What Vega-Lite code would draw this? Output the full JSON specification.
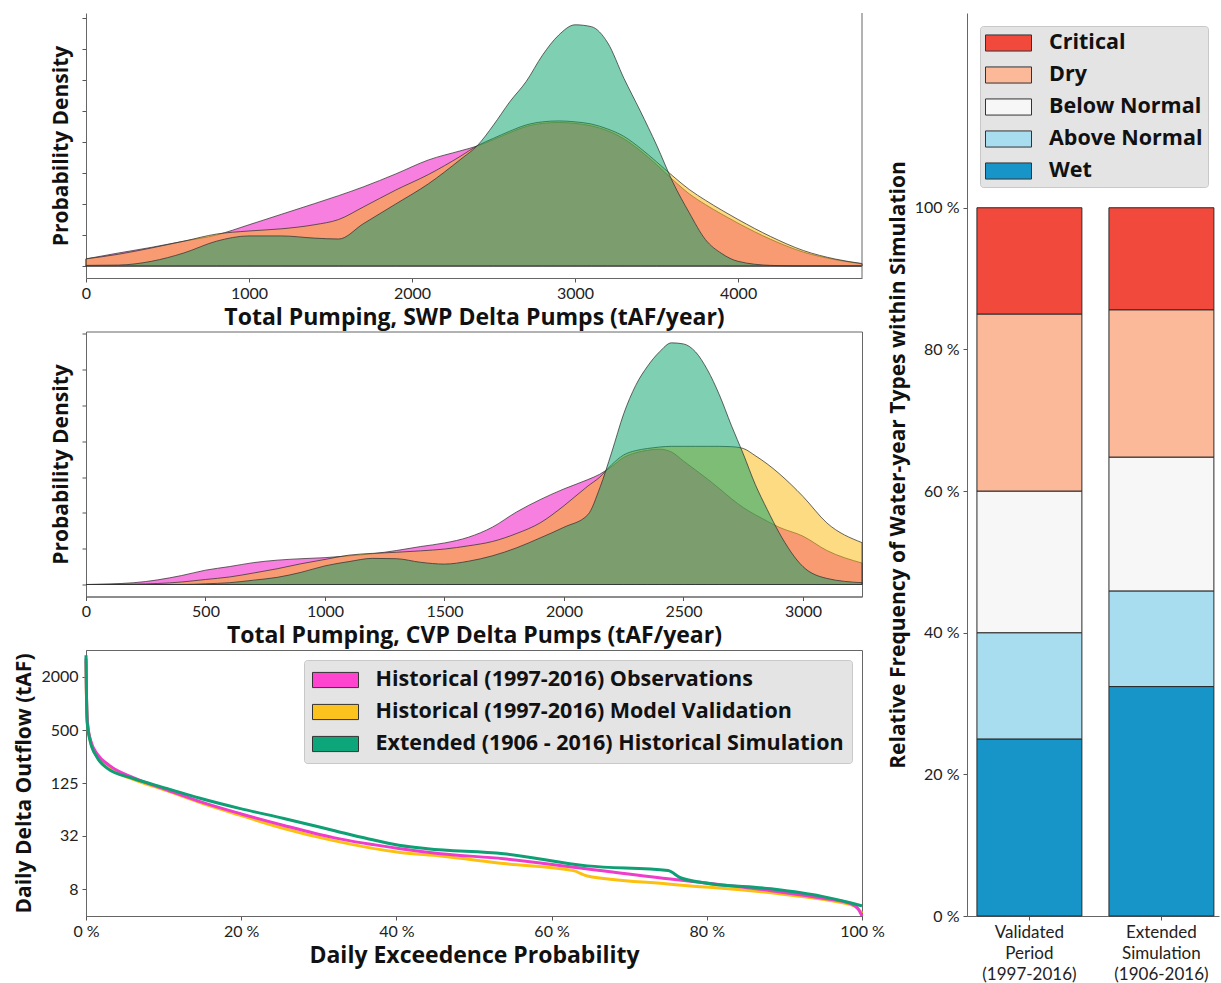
{
  "$schema": "https://vega.github.io/schema/vega-lite/v6.json",
  "padding": {"left": 13, "top": 12, "right": 2, "bottom": 2},
  "background": "white",
  "config": {
    "font": "Lato",
    "axis": {"labelFont": "Lato", "titleFont": "Open Sans", "labelFontSize": 16, "labelColor": "#222", "titleFontSize": 22, "titleFontWeight": "bold", "titleColor": "#111", "tickColor": "#555", "tickSize": 4, "domainColor": "#666", "grid": false, "labelPadding": 3, "labelFlush": false, "labelOverlap": false},
    "view": {"stroke": "#666"},
    "legend": {"labelFont": "Open Sans"}
  },
  "datasets": {
    "swp": [
      {"pumping": 0, "obs": 0.23, "val": 0.23, "ext": 0.02},
      {"pumping": 200, "obs": 0.42, "val": 0.38, "ext": 0.03},
      {"pumping": 400, "obs": 0.6, "val": 0.58, "ext": 0.15},
      {"pumping": 600, "obs": 0.8, "val": 0.8, "ext": 0.42},
      {"pumping": 800, "obs": 1.0, "val": 1.03, "ext": 0.8},
      {"pumping": 1000, "obs": 1.33, "val": 1.13, "ext": 0.97},
      {"pumping": 1200, "obs": 1.67, "val": 1.2, "ext": 0.97},
      {"pumping": 1400, "obs": 2.01, "val": 1.33, "ext": 0.9},
      {"pumping": 1550, "obs": 2.27, "val": 1.5, "ext": 0.87},
      {"pumping": 1700, "obs": 2.55, "val": 1.9, "ext": 1.36},
      {"pumping": 1900, "obs": 2.97, "val": 2.45, "ext": 2.0},
      {"pumping": 2100, "obs": 3.42, "val": 2.95, "ext": 2.65},
      {"pumping": 2300, "obs": 3.72, "val": 3.55, "ext": 3.45},
      {"pumping": 2400, "obs": 3.87, "val": 3.88, "ext": 3.88},
      {"pumping": 2500, "obs": 4.08, "val": 4.12, "ext": 4.55},
      {"pumping": 2600, "obs": 4.3, "val": 4.35, "ext": 5.3},
      {"pumping": 2700, "obs": 4.5, "val": 4.55, "ext": 5.95},
      {"pumping": 2800, "obs": 4.6, "val": 4.65, "ext": 6.8},
      {"pumping": 2900, "obs": 4.63, "val": 4.68, "ext": 7.45},
      {"pumping": 3000, "obs": 4.6, "val": 4.65, "ext": 7.78},
      {"pumping": 3100, "obs": 4.52, "val": 4.58, "ext": 7.72},
      {"pumping": 3200, "obs": 4.36, "val": 4.42, "ext": 7.2},
      {"pumping": 3300, "obs": 4.1, "val": 4.18, "ext": 6.05},
      {"pumping": 3400, "obs": 3.72, "val": 3.8, "ext": 5.0},
      {"pumping": 3500, "obs": 3.27, "val": 3.36, "ext": 3.9},
      {"pumping": 3600, "obs": 2.78, "val": 2.9, "ext": 2.7},
      {"pumping": 3700, "obs": 2.33, "val": 2.47, "ext": 1.72},
      {"pumping": 3800, "obs": 1.98, "val": 2.12, "ext": 0.85},
      {"pumping": 3900, "obs": 1.67, "val": 1.8, "ext": 0.4},
      {"pumping": 4000, "obs": 1.38, "val": 1.5, "ext": 0.15},
      {"pumping": 4200, "obs": 0.86, "val": 0.95, "ext": 0.02},
      {"pumping": 4400, "obs": 0.45, "val": 0.5, "ext": 0},
      {"pumping": 4600, "obs": 0.2, "val": 0.22, "ext": 0},
      {"pumping": 4760, "obs": 0.07, "val": 0.08, "ext": 0}
    ],
    "cvp": [
      {"pumping": 0, "obs": 0, "val": 0, "ext": 0},
      {"pumping": 200, "obs": 0.05, "val": 0.01, "ext": 0},
      {"pumping": 400, "obs": 0.25, "val": 0.07, "ext": 0},
      {"pumping": 500, "obs": 0.4, "val": 0.14, "ext": 0.02},
      {"pumping": 600, "obs": 0.5, "val": 0.21, "ext": 0.05},
      {"pumping": 700, "obs": 0.61, "val": 0.32, "ext": 0.12},
      {"pumping": 800, "obs": 0.68, "val": 0.44, "ext": 0.2},
      {"pumping": 900, "obs": 0.72, "val": 0.58, "ext": 0.34},
      {"pumping": 1000, "obs": 0.75, "val": 0.7, "ext": 0.52},
      {"pumping": 1100, "obs": 0.8, "val": 0.82, "ext": 0.64},
      {"pumping": 1200, "obs": 0.86, "val": 0.87, "ext": 0.73},
      {"pumping": 1300, "obs": 0.95, "val": 0.9, "ext": 0.72},
      {"pumping": 1400, "obs": 1.06, "val": 0.94, "ext": 0.62},
      {"pumping": 1500, "obs": 1.16, "val": 0.99, "ext": 0.57},
      {"pumping": 1600, "obs": 1.32, "val": 1.08, "ext": 0.65},
      {"pumping": 1700, "obs": 1.6, "val": 1.2, "ext": 0.8},
      {"pumping": 1800, "obs": 2.02, "val": 1.42, "ext": 1.02},
      {"pumping": 1900, "obs": 2.37, "val": 1.72, "ext": 1.3},
      {"pumping": 2000, "obs": 2.67, "val": 2.2, "ext": 1.6},
      {"pumping": 2100, "obs": 2.93, "val": 2.75, "ext": 1.95},
      {"pumping": 2150, "obs": 3.08, "val": 3.0, "ext": 2.7},
      {"pumping": 2200, "obs": 3.3, "val": 3.35, "ext": 3.7},
      {"pumping": 2250, "obs": 3.55, "val": 3.62, "ext": 4.77},
      {"pumping": 2300, "obs": 3.68, "val": 3.74, "ext": 5.56},
      {"pumping": 2350, "obs": 3.75, "val": 3.8, "ext": 6.1},
      {"pumping": 2400, "obs": 3.78, "val": 3.84, "ext": 6.5},
      {"pumping": 2450, "obs": 3.7, "val": 3.86, "ext": 6.75},
      {"pumping": 2500, "obs": 3.45, "val": 3.86, "ext": 6.72},
      {"pumping": 2550, "obs": 3.2, "val": 3.86, "ext": 6.5},
      {"pumping": 2600, "obs": 2.95, "val": 3.86, "ext": 6.0},
      {"pumping": 2650, "obs": 2.68, "val": 3.86, "ext": 5.3},
      {"pumping": 2700, "obs": 2.4, "val": 3.85, "ext": 4.45},
      {"pumping": 2750, "obs": 2.15, "val": 3.8, "ext": 3.65},
      {"pumping": 2800, "obs": 1.95, "val": 3.6, "ext": 2.8},
      {"pumping": 2850, "obs": 1.77, "val": 3.37, "ext": 2.1},
      {"pumping": 2900, "obs": 1.6, "val": 3.1, "ext": 1.45},
      {"pumping": 3000, "obs": 1.35, "val": 2.46, "ext": 0.5},
      {"pumping": 3100, "obs": 0.95, "val": 1.72, "ext": 0.17},
      {"pumping": 3247, "obs": 0.6, "val": 1.17, "ext": 0.05}
    ],
    "exceed": [
      {"series": "Historical (1997-2016) Model Validation", "pct": 0, "flow": 3000},
      {"series": "Historical (1997-2016) Model Validation", "pct": 0.05, "flow": 1300},
      {"series": "Historical (1997-2016) Model Validation", "pct": 0.2, "flow": 580},
      {"series": "Historical (1997-2016) Model Validation", "pct": 0.6, "flow": 370},
      {"series": "Historical (1997-2016) Model Validation", "pct": 1.5, "flow": 245},
      {"series": "Historical (1997-2016) Model Validation", "pct": 3, "flow": 185},
      {"series": "Historical (1997-2016) Model Validation", "pct": 6, "flow": 140},
      {"series": "Historical (1997-2016) Model Validation", "pct": 10.4, "flow": 104},
      {"series": "Historical (1997-2016) Model Validation", "pct": 14.7, "flow": 76},
      {"series": "Historical (1997-2016) Model Validation", "pct": 19.9, "flow": 54.6},
      {"series": "Historical (1997-2016) Model Validation", "pct": 25.5, "flow": 38.8},
      {"series": "Historical (1997-2016) Model Validation", "pct": 31.9, "flow": 28.3},
      {"series": "Historical (1997-2016) Model Validation", "pct": 40.5, "flow": 20.8},
      {"series": "Historical (1997-2016) Model Validation", "pct": 45.7, "flow": 19},
      {"series": "Historical (1997-2016) Model Validation", "pct": 53.8, "flow": 15.6},
      {"series": "Historical (1997-2016) Model Validation", "pct": 62.8, "flow": 13.0},
      {"series": "Historical (1997-2016) Model Validation", "pct": 64.6, "flow": 11.3},
      {"series": "Historical (1997-2016) Model Validation", "pct": 75, "flow": 9.2},
      {"series": "Historical (1997-2016) Model Validation", "pct": 88.3, "flow": 7.3},
      {"series": "Historical (1997-2016) Model Validation", "pct": 94.7, "flow": 6.2},
      {"series": "Historical (1997-2016) Model Validation", "pct": 99, "flow": 5.2},
      {"series": "Historical (1997-2016) Model Validation", "pct": 100, "flow": 4.3},
      {"series": "Historical (1997-2016) Observations", "pct": 0, "flow": 3200},
      {"series": "Historical (1997-2016) Observations", "pct": 0.05, "flow": 1400},
      {"series": "Historical (1997-2016) Observations", "pct": 0.2, "flow": 600},
      {"series": "Historical (1997-2016) Observations", "pct": 0.6, "flow": 380},
      {"series": "Historical (1997-2016) Observations", "pct": 1.5, "flow": 265},
      {"series": "Historical (1997-2016) Observations", "pct": 3, "flow": 200},
      {"series": "Historical (1997-2016) Observations", "pct": 6, "flow": 146},
      {"series": "Historical (1997-2016) Observations", "pct": 10.4, "flow": 106},
      {"series": "Historical (1997-2016) Observations", "pct": 14.7, "flow": 78},
      {"series": "Historical (1997-2016) Observations", "pct": 19.9, "flow": 57},
      {"series": "Historical (1997-2016) Observations", "pct": 25.5, "flow": 42},
      {"series": "Historical (1997-2016) Observations", "pct": 31.9, "flow": 30.6},
      {"series": "Historical (1997-2016) Observations", "pct": 40.5, "flow": 23},
      {"series": "Historical (1997-2016) Observations", "pct": 45.7, "flow": 20.2},
      {"series": "Historical (1997-2016) Observations", "pct": 53.8, "flow": 17.7},
      {"series": "Historical (1997-2016) Observations", "pct": 63.4, "flow": 14},
      {"series": "Historical (1997-2016) Observations", "pct": 75, "flow": 10.5},
      {"series": "Historical (1997-2016) Observations", "pct": 79.6, "flow": 9.5},
      {"series": "Historical (1997-2016) Observations", "pct": 88.3, "flow": 7.7},
      {"series": "Historical (1997-2016) Observations", "pct": 94.7, "flow": 6.4},
      {"series": "Historical (1997-2016) Observations", "pct": 98.6, "flow": 5.5},
      {"series": "Historical (1997-2016) Observations", "pct": 99.5, "flow": 4.8},
      {"series": "Historical (1997-2016) Observations", "pct": 100, "flow": 4.0},
      {"series": "Extended (1906 - 2016) Historical Simulation", "pct": 0, "flow": 3500},
      {"series": "Extended (1906 - 2016) Historical Simulation", "pct": 0.05, "flow": 1500},
      {"series": "Extended (1906 - 2016) Historical Simulation", "pct": 0.15, "flow": 605},
      {"series": "Extended (1906 - 2016) Historical Simulation", "pct": 0.5, "flow": 387},
      {"series": "Extended (1906 - 2016) Historical Simulation", "pct": 1.4, "flow": 248},
      {"series": "Extended (1906 - 2016) Historical Simulation", "pct": 2.7, "flow": 186},
      {"series": "Extended (1906 - 2016) Historical Simulation", "pct": 6, "flow": 143},
      {"series": "Extended (1906 - 2016) Historical Simulation", "pct": 10.4, "flow": 110},
      {"series": "Extended (1906 - 2016) Historical Simulation", "pct": 14.7, "flow": 85},
      {"series": "Extended (1906 - 2016) Historical Simulation", "pct": 19.9, "flow": 65},
      {"series": "Extended (1906 - 2016) Historical Simulation", "pct": 25.5, "flow": 50.4},
      {"series": "Extended (1906 - 2016) Historical Simulation", "pct": 31.9, "flow": 36.9},
      {"series": "Extended (1906 - 2016) Historical Simulation", "pct": 36.2, "flow": 29.9},
      {"series": "Extended (1906 - 2016) Historical Simulation", "pct": 40.5, "flow": 25},
      {"series": "Extended (1906 - 2016) Historical Simulation", "pct": 44, "flow": 23},
      {"series": "Extended (1906 - 2016) Historical Simulation", "pct": 53.8, "flow": 20.2},
      {"series": "Extended (1906 - 2016) Historical Simulation", "pct": 64.6, "flow": 14.7},
      {"series": "Extended (1906 - 2016) Historical Simulation", "pct": 75, "flow": 13.0},
      {"series": "Extended (1906 - 2016) Historical Simulation", "pct": 76.6, "flow": 10.8},
      {"series": "Extended (1906 - 2016) Historical Simulation", "pct": 79.6, "flow": 9.5},
      {"series": "Extended (1906 - 2016) Historical Simulation", "pct": 88.3, "flow": 8.1},
      {"series": "Extended (1906 - 2016) Historical Simulation", "pct": 94.7, "flow": 6.7},
      {"series": "Extended (1906 - 2016) Historical Simulation", "pct": 98.6, "flow": 5.6},
      {"series": "Extended (1906 - 2016) Historical Simulation", "pct": 100, "flow": 5.2}
    ],
    "wy": [
      {"period": "Validated Period (1997-2016)", "type": "Wet", "rank": 1, "share": 25},
      {"period": "Validated Period (1997-2016)", "type": "Above Normal", "rank": 2, "share": 15},
      {"period": "Validated Period (1997-2016)", "type": "Below Normal", "rank": 3, "share": 20},
      {"period": "Validated Period (1997-2016)", "type": "Dry", "rank": 4, "share": 25},
      {"period": "Validated Period (1997-2016)", "type": "Critical", "rank": 5, "share": 15},
      {"period": "Extended Simulation (1906-2016)", "type": "Wet", "rank": 1, "share": 32.4},
      {"period": "Extended Simulation (1906-2016)", "type": "Above Normal", "rank": 2, "share": 13.5},
      {"period": "Extended Simulation (1906-2016)", "type": "Below Normal", "rank": 3, "share": 18.9},
      {"period": "Extended Simulation (1906-2016)", "type": "Dry", "rank": 4, "share": 20.8},
      {"period": "Extended Simulation (1906-2016)", "type": "Critical", "rank": 5, "share": 14.4}
    ]
  },
  "spacing": 2,
  "bounds": "full",
  "resolve": {"scale": {"color": "independent", "fill": "independent"}, "legend": {"color": "independent", "fill": "independent"}},
  "hconcat": [
    {
      "spacing": 53.5,
      "bounds": "flush",
      "resolve": {"scale": {"color": "independent", "fill": "independent"}, "legend": {"color": "independent", "fill": "independent"}},
      "vconcat": [
        {
          "width": 776,
          "height": 265,
          "view": {"stroke": null},
          "layer": [
            {
              "data": {"name": "swp"},
              "transform": [{"fold": ["obs", "val", "ext"], "as": ["series", "density"]}],
              "mark": {"type": "area", "interpolate": "monotone", "fillOpacity": 0.5, "stroke": "#333", "strokeWidth": 1, "strokeOpacity": 0.75},
              "encoding": {
                "x": {"field": "pumping", "type": "quantitative", "scale": {"domain": [0, 4760], "nice": false, "zero": false},
                  "axis": {"values": [0, 1000, 2000, 3000, 4000], "format": "d", "title": "Total Pumping, SWP Delta Pumps (tAF/year)", "titleFontSize": 23, "titlePadding": 5}},
                "y": {"field": "density", "type": "quantitative", "stack": null, "scale": {"domain": [-0.387, 8.161], "nice": false, "zero": false},
                  "axis": {"values": [0, 1, 2, 3, 4, 5, 6, 7, 8], "labels": false, "title": "Probability Density", "titleFontSize": 21, "titlePadding": 10}},
                "color": {"field": "series", "type": "nominal", "scale": {"domain": ["obs", "val", "ext"], "range": ["#f000c0", "#fab707", "#00a067"]}, "legend": null}
              }
            },
            {
              "data": {"values": [{}]},
              "mark": {"type": "rule", "color": "#666", "strokeWidth": 1},
              "encoding": {"x": {"datum": 4760}}
            }
          ]
        },
        {
          "width": 776,
          "height": 265,
          "data": {"name": "cvp"},
          "transform": [{"fold": ["obs", "val", "ext"], "as": ["series", "density"]}],
          "mark": {"type": "area", "interpolate": "monotone", "fillOpacity": 0.5, "stroke": "#333", "strokeWidth": 1, "strokeOpacity": 0.75},
          "encoding": {
            "x": {"field": "pumping", "type": "quantitative", "scale": {"domain": [0, 3247], "nice": false, "zero": false},
              "axis": {"values": [0, 500, 1000, 1500, 2000, 2500, 3000], "format": "d", "title": "Total Pumping, CVP Delta Pumps (tAF/year)", "titleFontSize": 23, "titlePadding": 5}},
            "y": {"field": "density", "type": "quantitative", "stack": null, "scale": {"domain": [-0.335, 7.067], "nice": false, "zero": false},
              "axis": {"values": [0, 1, 2, 3, 4, 5, 6, 7], "labels": false, "title": "Probability Density", "titleFontSize": 21, "titlePadding": 10}},
            "color": {"field": "series", "type": "nominal", "scale": {"domain": ["obs", "val", "ext"], "range": ["#f000c0", "#fab707", "#00a067"]}, "legend": null}
          }
        },
        {
          "width": 776,
          "height": 266,
          "data": {"name": "exceed"},
          "encoding": {
            "x": {"field": "pct", "type": "quantitative", "scale": {"domain": [0, 100], "nice": false},
              "axis": {"values": [0, 20, 40, 60, 80, 100], "labelExpr": "datum.value + ' %'", "title": "Daily Exceedence Probability", "titleFontSize": 23, "titlePadding": 5}},
            "y": {"field": "flow", "type": "quantitative", "scale": {"type": "log", "domain": [4, 4000], "nice": false},
              "axis": {"values": [8, 32, 125, 500, 2000], "format": "d", "title": "Daily Delta Outflow (tAF)", "titleFontSize": 21, "titlePadding": 6, "labelPadding": 4}}
          },
          "layer": [
            {
              "mark": {"type": "line", "strokeWidth": 3, "interpolate": "monotone"},
              "encoding": {
                "color": {"field": "series", "type": "nominal",
                  "scale": {"range": ["#0e9f74", "#fdc010", "#ee3ccb"]},
                  "legend": null}
              }
            },
            {
              "mark": {"type": "point", "filled": true, "opacity": 0, "size": 1},
              "encoding": {
                "fill": {"field": "series", "type": "nominal",
                  "scale": {"domain": ["Historical (1997-2016) Observations", "Historical (1997-2016) Model Validation", "Extended (1906 - 2016) Historical Simulation"], "range": ["#ff44d0", "#fcc31e", "#0ca67a"]},
                  "legend": {"orient": "top-right", "offset": 10, "title": null, "padding": 8, "fillColor": "#e4e4e4", "strokeColor": "#c8c8c8", "cornerRadius": 3,
                    "labelFont": "Open Sans", "labelFontSize": 21.5, "labelFontWeight": "bold", "labelColor": "#111", "labelLimit": 700, "labelOffset": 28,
                    "symbolType": "M-2,-0.66H2V0.66H-2Z", "symbolSize": 529, "symbolOffset": 11.5, "rowPadding": 9,
                    "symbolOpacity": 1, "symbolStrokeColor": "#333", "symbolStrokeWidth": 1}
                }
              }
            }
          ]
        }
      ]
    },
    {
      "width": 252,
      "height": 903,
      "view": {"stroke": null},
      "data": {"name": "wy"},
      "mark": {"type": "bar", "stroke": "#2a2a2a", "strokeWidth": 1},
      "encoding": {
        "x": {"field": "period", "type": "nominal", "sort": null,
          "scale": {"paddingInner": 0.205, "paddingOuter": 0.057, "align": 0.66},
          "axis": {"title": null, "labelAngle": 0, "labelFontSize": 17, "labelLineHeight": 21, "labelPadding": 4, "labelBaseline": "top",
            "labelExpr": "datum.value == 'Validated Period (1997-2016)' ? ['Validated', 'Period', '(1997-2016)'] : ['Extended', 'Simulation', '(1906-2016)']"}},
        "y": {"field": "share", "type": "quantitative", "stack": "zero", "scale": {"domain": [0, 127.5], "nice": false},
          "axis": {"values": [0, 20, 40, 60, 80, 100], "labelExpr": "datum.value + ' %'", "title": "Relative Frequency of Water-year Types within Simulation", "titleFontSize": 21, "titlePadding": 6, "labelPadding": 4}},
        "color": {"field": "type", "type": "nominal",
          "scale": {"domain": ["Critical", "Dry", "Below Normal", "Above Normal", "Wet"], "range": ["#f2493d", "#fbb99a", "#f7f7f7", "#a8dcef", "#1794c8"]},
          "legend": {"orient": "top-left", "offset": 13, "title": null, "padding": 5, "fillColor": "#e4e4e4", "strokeColor": "#c8c8c8", "cornerRadius": 3,
            "labelFont": "Open Sans", "labelFontSize": 21.5, "labelFontWeight": "bold", "labelColor": "#111", "labelLimit": 400, "labelOffset": 28.5,
            "symbolType": "M-2,-0.7H2V0.7H-2Z", "symbolSize": 529, "symbolOffset": 11.5, "rowPadding": 9,
            "symbolOpacity": 1, "symbolStrokeColor": "#333", "symbolStrokeWidth": 1}},
        "order": {"field": "rank", "type": "quantitative"}
      }
    }
  ]
}
